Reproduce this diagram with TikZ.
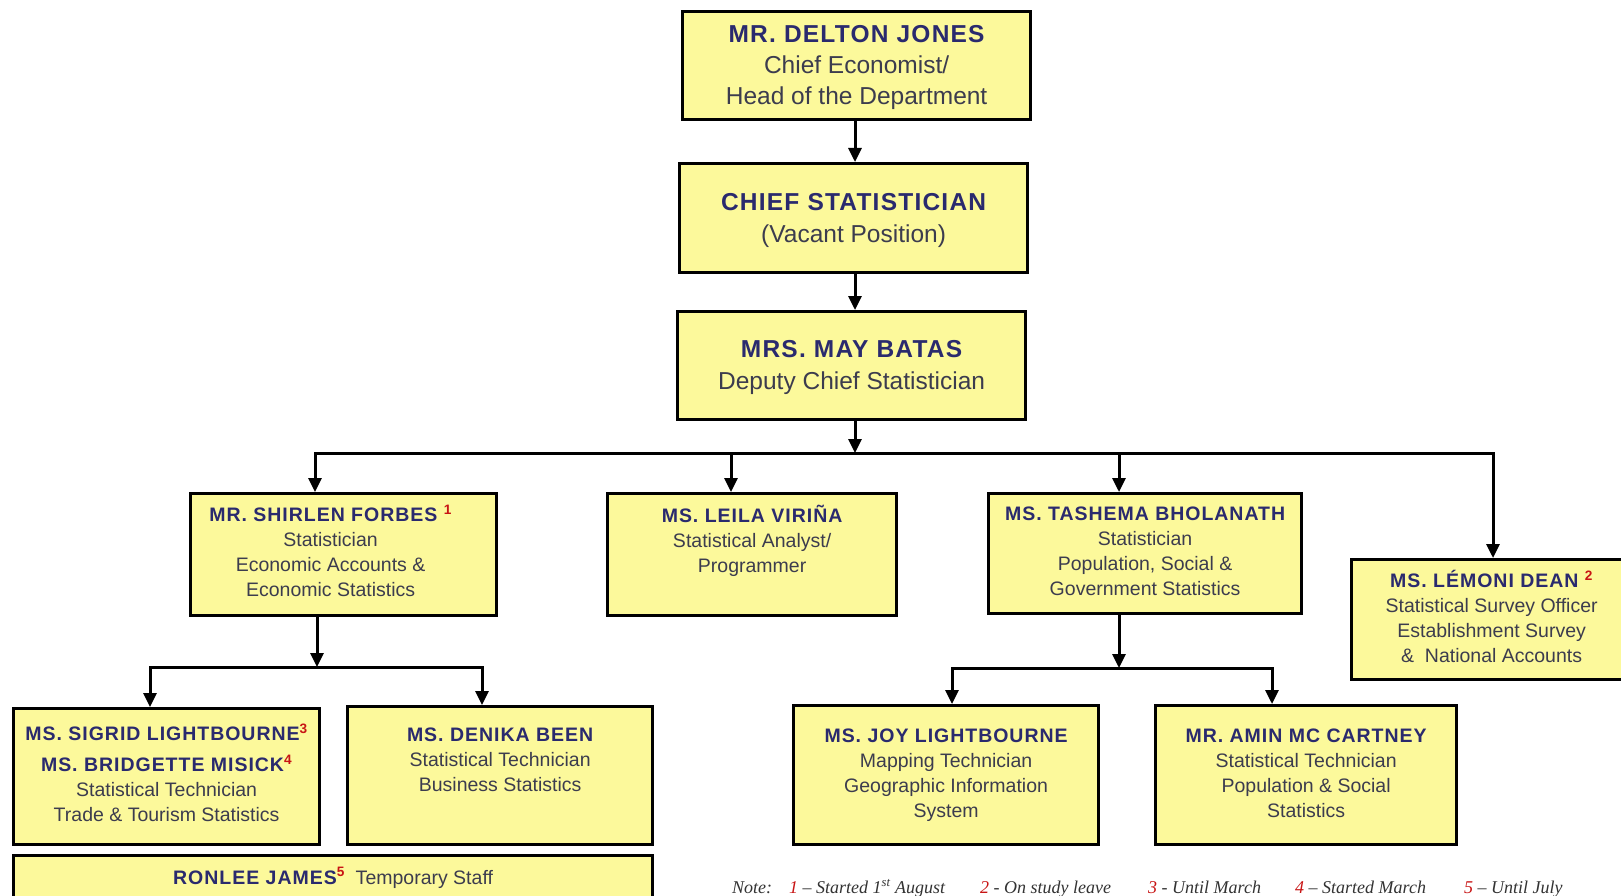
\documentclass[tikz,border=0pt]{standalone}
\usepackage{fontspec}
\setmainfont{Liberation Sans}
\newfontfamily\notefont{Liberation Serif}
\newfontfamily\namefont[LetterSpace=5]{Liberation Sans}
\usetikzlibrary{arrows.meta}
\definecolor{boxfill}{RGB}{252,249,155}
\definecolor{namec}{RGB}{42,42,110}
\definecolor{rolec}{RGB}{60,60,78}
\definecolor{supc}{RGB}{200,20,20}
\newcommand\pname[1]{{\namefont\bfseries\color{namec}#1}}
\newcommand\sref[1]{\smash{\textsuperscript{\textcolor{supc}{\bfseries #1}}}}
\newcommand\rnum[1]{\textcolor{supc}{#1}}
\tikzset{
  box/.style={draw=black, line width=3.2pt, fill=boxfill, rectangle, anchor=north west, inner sep=0pt},
  txt/.style={anchor=north, align=center, inner sep=0pt, text=rolec},
  bigtxt/.style={font=\fontsize{24.5}{31}\selectfont},
  bigtxtb/.style={font=\fontsize{24.5}{32}\selectfont},
  smalltxt/.style={font=\fontsize{19.5}{25}\selectfont},
  busline/.style={line width=3pt, line cap=rect},
  arr/.style={line width=3pt, -{Triangle[length=14pt,width=13pt]}},
  notetxt/.style={anchor=base west, inner sep=0pt, font=\notefont\itshape\fontsize{18}{20}\selectfont, text=black!80}
}
\begin{document}
\begin{tikzpicture}[x=1pt,y=-1pt]
\fill[white] (0,0) rectangle (1621,896);
\useasboundingbox (0,0) rectangle (1621,896);

% boxes
\node[box, minimum width=348pt, minimum height=108pt] (top) at (681,10) {};
\node[txt,bigtxt] (topT) at ([yshift=-15pt]top.north) {\pname{MR. DELTON JONES}\\Chief Economist/\\Head of the Department};

\node[box, minimum width=348pt, minimum height=109pt] (chief) at (678,162) {};
\node[txt,bigtxtb] (chiefT) at ([yshift=-31pt]chief.north) {\pname{CHIEF STATISTICIAN}\\(Vacant Position)};

\node[box, minimum width=348pt, minimum height=108pt] (batas) at (676,310) {};
\node[txt,bigtxtb] (batasT) at ([yshift=-30pt]batas.north) {\pname{MRS. MAY BATAS}\\Deputy Chief Statistician};

\node[box, minimum width=306pt, minimum height=122pt] (forbes) at (189,492) {};
\node[txt,smalltxt] (forbesT) at ([yshift=-16pt,xshift=-13pt]forbes.north) {\pname{MR. SHIRLEN FORBES }\sref{1}\\Statistician\\Economic Accounts \&\\Economic Statistics};

\node[box, minimum width=289pt, minimum height=122pt] (virina) at (606,492) {};
\node[txt,smalltxt] (virinaT) at ([yshift=-13pt]virina.north) {\pname{MS. LEILA VIRIÑA}\\Statistical Analyst/\\Programmer};

\node[box, minimum width=313pt, minimum height=120pt] (bholanath) at (987,492) {};
\node[txt,smalltxt] (bholanathT) at ([yshift=-15pt]bholanath.north) {\pname{MS. TASHEMA BHOLANATH}\\Statistician\\Population, Social \&\\Government Statistics};

\node[box, minimum width=280pt, minimum height=120pt] (dean) at (1350,558) {};
\node[txt,smalltxt] (deanT) at ([yshift=-12.5pt]dean.north) {\pname{MS. LÉMONI DEAN }\sref{2}\\Statistical Survey Officer\\Establishment Survey\\\&\ \ National Accounts};

\node[box, minimum width=306pt, minimum height=136pt] (sigrid) at (12,707) {};
\node[txt,smalltxt] (sigridT) at ([yshift=-20pt]sigrid.north) {\pname{MS. SIGRID LIGHTBOURNE}\sref{3}\\[6pt]\pname{MS. BRIDGETTE MISICK}\sref{4}\\Statistical Technician\\Trade \& Tourism Statistics};

\node[box, minimum width=305pt, minimum height=138pt] (denika) at (346,705) {};
\node[txt,smalltxt] (denikaT) at ([yshift=-23pt]denika.north) {\pname{MS. DENIKA BEEN}\\Statistical Technician\\Business Statistics};

\node[box, minimum width=305pt, minimum height=139pt] (joy) at (792,704) {};
\node[txt,smalltxt] (joyT) at ([yshift=-25pt]joy.north) {\pname{MS. JOY LIGHTBOURNE}\\Mapping Technician\\Geographic Information\\System};

\node[box, minimum width=301pt, minimum height=139pt] (amin) at (1154,704) {};
\node[txt,smalltxt] (aminT) at ([yshift=-25pt]amin.north) {\pname{MR. AMIN MC CARTNEY}\\Statistical Technician\\Population \& Social\\Statistics};

\node[box, minimum width=639pt, minimum height=70pt] (ronlee) at (12,854) {};
\node[txt,smalltxt] (ronleeT) at ([yshift=-16pt]ronlee.north) {\pname{RONLEE JAMES}\sref{5}\ \ Temporary Staff};

% connectors
\coordinate (c0) at (855,453);
\draw[arr] (top.south -| c0) -- (chief.north -| c0);
\draw[arr] (chief.south -| c0) -- (batas.north -| c0);
\draw[arr] (batas.south -| c0) -- (c0);

\coordinate (b1) at (315,453);
\coordinate (b2) at (731,453);
\coordinate (b3) at (1119,453);
\coordinate (b4) at (1493,453);
\draw[busline] (b1) -- (b4);
\draw[arr] (b1) -- (forbes.north -| b1);
\draw[arr] (b2) -- (virina.north -| b2);
\draw[arr] (b3) -- (bholanath.north -| b3);
\draw[arr] (b4) -- (dean.north -| b4);

\coordinate (f0) at (317,667);
\coordinate (f1) at (150,667);
\coordinate (f2) at (482,667);
\draw[arr] (forbes.south -| f0) -- (f0);
\draw[busline] (f1) -- (f2);
\draw[arr] (f1) -- (sigrid.north -| f1);
\draw[arr] (f2) -- (denika.north -| f2);

\coordinate (t0) at (1119,668);
\coordinate (t1) at (952,668);
\coordinate (t2) at (1272,668);
\draw[arr] (bholanath.south -| t0) -- (t0);
\draw[busline] (t1) -- (t2);
\draw[arr] (t1) -- (joy.north -| t1);
\draw[arr] (t2) -- (amin.north -| t2);

% note
\node[notetxt] (n0) at (732,893) {Note:};
\node[notetxt] (n1) at (789,893) {\rnum{1} – Started 1\textsuperscript{st} August};
\node[notetxt] (n2) at (980,893) {\rnum{2} - On study leave};
\node[notetxt] (n3) at (1148,893) {\rnum{3} - Until March};
\node[notetxt] (n4) at (1295,893) {\rnum{4} – Started March};
\node[notetxt] (n5) at (1464,893) {\rnum{5} – Until July};
\end{tikzpicture}
\end{document}
